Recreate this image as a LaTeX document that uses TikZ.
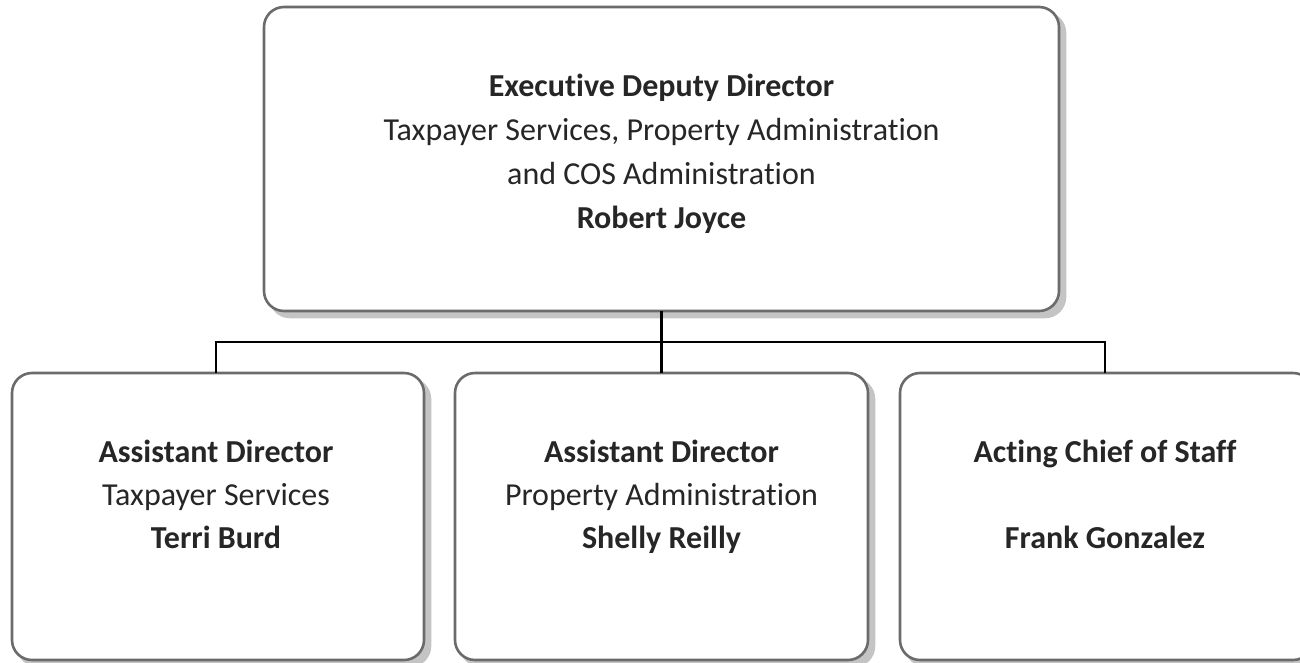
\documentclass[tikz,border=0pt]{standalone}
\usepackage{fontspec}
\setmainfont[Ligatures={NoCommon}]{Carlito}
\usetikzlibrary{calc}
\definecolor{boxline}{HTML}{6B6B6B}
\definecolor{shade}{HTML}{C4C4C4}
\definecolor{txtc}{HTML}{262626}
\tikzset{
  x=1pt, y=-1pt,
  orgbox/.style={draw=boxline, line width=2.6pt, rounded corners=20pt, fill=white,
    inner sep=0pt},
  boxshadow/.style={fill=shade, draw=shade, line width=2.6pt, rounded corners=20pt},
  conn/.style={draw=black, line width=2.2pt},
  ln/.style={anchor=base, inner sep=0pt, text=txtc, font=\fontsize{32}{38}\selectfont},
  lnb/.style={ln, font=\fontsize{32}{38}\selectfont\bfseries},
}
\begin{document}
\begin{tikzpicture}
\useasboundingbox (0,0) rectangle (1300,662);
\clip (0,0) rectangle (1300,662);
% shadows
\path[boxshadow] (270,13) rectangle (1065,317);
\path[boxshadow] (18,379) rectangle (430,666);
\path[boxshadow] (461,379) rectangle (874,666);
\path[boxshadow] (906,379) rectangle (1319,666);
% boxes
\draw[orgbox] (264,7) rectangle (1059,311);
\coordinate (topS) at (661.5,311);
\draw[orgbox] (12,373) rectangle (424,660);
\draw[orgbox] (455,373) rectangle (868,660);
\draw[orgbox] (900,373) rectangle (1313,660);
\coordinate (bar) at (661.5,342);
\coordinate (aN) at (216,373);
\coordinate (bN) at (661.5,373);
\coordinate (cN) at (1105,373);
% connectors
\draw[conn] (topS) -- (bar);
\draw[conn] (aN) -- (aN |- bar) -- (cN |- bar) -- (cN);
\draw[conn] (bN) -- (bar);
% top text
\node[lnb] (t1) at (661.5,96) {Executive Deputy Director};
\node[ln] (t2) at (661.5,140) {Taxpayer Services, Property Administration};
\node[ln] (t3) at (661.5,184) {and COS Administration};
\node[lnb] (t4) at (661.5,228) {Robert Joyce};
% left
\node[lnb] (a1) at (216,462) {Assistant Director};
\node[ln] (a2) at (216,505) {Taxpayer Services};
\node[lnb] (a3) at (216,548) {Terri Burd};
% middle
\node[lnb] (b1) at (661.5,462) {Assistant Director};
\node[ln] (b2) at (661.5,505) {Property Administration};
\node[lnb] (b3) at (661.5,548) {Shelly Reilly};
% right
\node[lnb] (c1) at (1105,462) {Acting Chief of Staff};
\node[lnb] (c3) at (1105,548) {Frank Gonzalez};
\end{tikzpicture}
\end{document}
